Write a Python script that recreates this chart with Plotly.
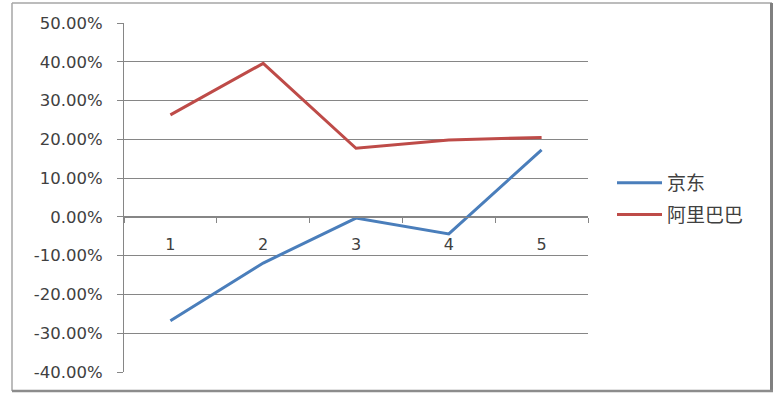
import plotly.graph_objects as go

categories = ["1", "2", "3", "4", "5"]
jd = [-0.268, -0.119, -0.003, -0.044, 0.173]
ali = [0.263, 0.396, 0.177, 0.198, 0.205]
series_names = ["京东", "阿里巴巴"]
y_ticks = [-0.4, -0.3, -0.2, -0.1, 0.0, 0.1, 0.2, 0.3, 0.4, 0.5]
y_tick_labels = ["-40.00%", "-30.00%", "-20.00%", "-10.00%", "0.00%",
                 "10.00%", "20.00%", "30.00%", "40.00%", "50.00%"]

W, H = 783, 395
L, R, T, B = 124, 588, 23, 372
ymin, ymax = -0.4, 0.5

fig = go.Figure()
fig.add_trace(go.Scatter(x=categories, y=jd, mode="lines", name=series_names[0],
                         line=dict(color="#4a7ebb", width=3), legendgroup="a"))
fig.add_trace(go.Scatter(x=categories, y=ali, mode="lines", name=series_names[1],
                         line=dict(color="#be4b48", width=3), legendgroup="b"))

pw, ph = R - L, B - T
def px_x(p):
    return (p - L) / pw
def px_y(p):
    return (B - p) / ph

font_fam = "DejaVu Sans, Liberation Sans, sans-serif"
fig.update_layout(
    width=W, height=H,
    margin=dict(l=L, r=W - R, t=T, b=H - B, pad=0),
    paper_bgcolor="white", plot_bgcolor="white",
    showlegend=True,
    legend=dict(x=px_x(612), y=px_y(164), xanchor="left", yanchor="top",
                font=dict(family="Noto Sans CJK SC", size=19, color="#404040"),
                bgcolor="rgba(0,0,0,0)", tracegroupgap=4, traceorder="grouped",
                itemwidth=45),
    xaxis=dict(type="category", anchor="free", position=(0 - ymin) / (ymax - ymin),
               showline=True, linecolor="#868686", linewidth=1,
               showgrid=False, ticks="outside", ticklen=5, tickcolor="#868686",
               tickson="boundaries", range=[-0.5, 4.5], ticklabelstandoff=13,
               tickfont=dict(family=font_fam, size=16, color="#404040"),
               zeroline=False, fixedrange=True),
    yaxis=dict(range=[ymin, ymax], tickvals=y_ticks, ticktext=y_tick_labels,
               showline=True, linecolor="#868686", linewidth=1,
               showgrid=True, gridcolor="#868686", gridwidth=1,
               ticks="outside", ticklen=6, tickcolor="#868686",
               ticklabelstandoff=11,
               tickfont=dict(family=font_fam, size=16.5, color="#404040"),
               zeroline=False),
)

# chart frame
fig.add_shape(type="line", xref="paper", yref="paper",
              x0=px_x(12), x1=px_x(772), y0=px_y(3), y1=px_y(3),
              line=dict(color="#a6a6a6", width=1.5))
fig.add_shape(type="line", xref="paper", yref="paper",
              x0=px_x(12), x1=px_x(12), y0=px_y(3), y1=px_y(391),
              line=dict(color="#a6a6a6", width=1.5))
fig.add_shape(type="line", xref="paper", yref="paper",
              x0=px_x(771.5), x1=px_x(771.5), y0=px_y(3), y1=px_y(392),
              line=dict(color="#808080", width=3))
fig.add_shape(type="line", xref="paper", yref="paper",
              x0=px_x(12), x1=px_x(773), y0=px_y(391), y1=px_y(391),
              line=dict(color="#8c8c8c", width=2.5))

fig.write_html("out.html")
